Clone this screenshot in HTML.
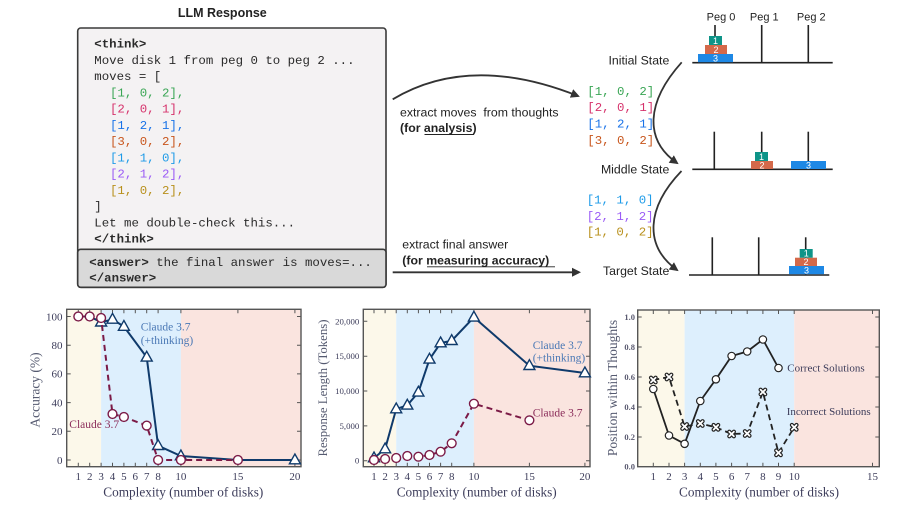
<!DOCTYPE html>
<html><head><meta charset="utf-8"><style>
html,body{margin:0;padding:0;background:#fff;}
svg{display:block;}
.mono{font-family:"Liberation Mono",monospace;font-size:12.4px;}
.sans{font-family:"Liberation Sans",sans-serif;}
.serif{font-family:"Liberation Serif",serif;}
</style></head><body>
<svg width="914" height="514" viewBox="0 0 914 514" xmlns="http://www.w3.org/2000/svg">
<defs>
<marker id="ah" markerWidth="10" markerHeight="10" refX="7" refY="5" orient="auto" markerUnits="userSpaceOnUse"><path d="M0,0.5 L9,5 L0,9.5 Z" fill="#333"/></marker>
<g id="tri"><polygon points="0,-6 5.5,3.8 -5.5,3.8" fill="#fff" stroke="#0f3a6b" stroke-width="1.4"/></g>
<g id="cir"><circle r="4.4" fill="#fff" stroke="#7b1a46" stroke-width="1.4"/></g>
<g id="cirk"><circle r="3.7" fill="#fff" stroke="#222" stroke-width="1.2"/></g>
<g id="xk"><path d="M-2.3,-2.3 L2.3,2.3 M2.3,-2.3 L-2.3,2.3" stroke="#222" stroke-width="4.2" stroke-linecap="round"/><path d="M-2.3,-2.3 L2.3,2.3 M2.3,-2.3 L-2.3,2.3" stroke="#fff" stroke-width="1.8" stroke-linecap="round"/></g>
</defs>

<!-- ================= TOP LEFT: LLM RESPONSE ================= -->
<text x="222.3" y="17" text-anchor="middle" class="sans" font-size="12.5" font-weight="bold" fill="#222">LLM Response</text>
<rect x="77.7" y="28" width="308.3" height="259.3" rx="3" fill="#f4f2f3" stroke="#3a3a3a" stroke-width="1.6"/>
<rect x="77.7" y="249.3" width="308.3" height="38" rx="3" fill="#d9d9d9" stroke="#3a3a3a" stroke-width="1.6"/>
<g class="mono" fill="#2a2a2a">
<text x="94.3" y="47.6" font-weight="bold">&lt;think&gt;</text>
<text x="94.3" y="63.9">Move disk 1 from peg 0 to peg 2 ...</text>
<text x="94.3" y="80.1">moves = [</text>
<text x="110" y="96.4" fill="#3aa655">[1, 0, 2],</text>
<text x="110" y="112.6" fill="#d6336c">[2, 0, 1],</text>
<text x="110" y="128.9" fill="#1a73e8">[1, 2, 1],</text>
<text x="110" y="145.1" fill="#c8561d">[3, 0, 2],</text>
<text x="110" y="161.4" fill="#1e9be8">[1, 1, 0],</text>
<text x="110" y="177.6" fill="#9b5cf6">[2, 1, 2],</text>
<text x="110" y="193.9" fill="#b8901c">[1, 0, 2],</text>
<text x="94.3" y="210.1">]</text>
<text x="94.3" y="226.4">Let me double-check this...</text>
<text x="94.3" y="242.6" font-weight="bold">&lt;/think&gt;</text>
<text x="89.3" y="266"><tspan font-weight="bold">&lt;answer&gt;</tspan> the final answer is moves=...</text>
<text x="89.3" y="281.6" font-weight="bold">&lt;/answer&gt;</text>
</g>

<!-- ================= MIDDLE ARROWS ================= -->
<path d="M392.7,99.3 Q470,53 578,96" fill="none" stroke="#333" stroke-width="1.8" marker-end="url(#ah)"/>
<text x="400" y="116.6" class="sans" font-size="12.3" fill="#222">extract moves&#160; from thoughts</text>
<text x="400" y="132" class="sans" font-size="12.3" font-weight="bold" fill="#222">(for analysis)</text>
<line x1="424.5" y1="134.5" x2="474" y2="134.5" stroke="#222" stroke-width="0.9"/>
<text x="402.3" y="248.6" class="sans" font-size="12.3" fill="#222">extract final answer</text>
<text x="402.3" y="264.3" class="sans" font-size="12.3" font-weight="bold" fill="#222">(for measuring accuracy)</text>
<line x1="427" y1="266.8" x2="555" y2="266.8" stroke="#222" stroke-width="0.9"/>
<line x1="392.7" y1="272.3" x2="579" y2="272.3" stroke="#333" stroke-width="1.8" marker-end="url(#ah)"/>

<!-- move lists -->
<g class="mono" font-size="12">
<text x="587.3" y="95" fill="#3aa655">[1, 0, 2]</text>
<text x="587.3" y="111.2" fill="#d6336c">[2, 0, 1]</text>
<text x="587.3" y="127.6" fill="#1a73e8">[1, 2, 1]</text>
<text x="587.3" y="144.2" fill="#c8561d">[3, 0, 2]</text>
<text x="586.7" y="203.3" fill="#1e9be8">[1, 1, 0]</text>
<text x="586.7" y="219.8" fill="#9b5cf6">[2, 1, 2]</text>
<text x="586.7" y="235.5" fill="#b8901c">[1, 0, 2]</text>
</g>

<!-- ================= TOWER OF HANOI ================= -->
<g class="sans" font-size="11" fill="#222" text-anchor="middle">
<text x="721" y="20.7">Peg 0</text>
<text x="764.3" y="20.7">Peg 1</text>
<text x="811.3" y="20.7">Peg 2</text>
</g>
<g class="sans" font-size="12.3" fill="#222" text-anchor="end">
<text x="669.3" y="64.4">Initial State</text>
<text x="669.3" y="173.6">Middle State</text>
<text x="669.3" y="275">Target State</text>
</g>
<path d="M681.7,62.3 C646,102 644,140 677,163" fill="none" stroke="#333" stroke-width="1.8" marker-end="url(#ah)"/>
<path d="M681.5,171 C646,208 644,246 677,270" fill="none" stroke="#333" stroke-width="1.8" marker-end="url(#ah)"/>

<g stroke="#222" stroke-width="1.6">
<line x1="692.3" y1="62.7" x2="832.7" y2="62.7"/>
<line x1="715" y1="25" x2="715" y2="62.7"/>
<line x1="761.7" y1="25" x2="761.7" y2="62.7"/>
<line x1="808.3" y1="25" x2="808.3" y2="62.7"/>
<line x1="692.3" y1="169.3" x2="832.7" y2="169.3"/>
<line x1="714.3" y1="131.7" x2="714.3" y2="169.3"/>
<line x1="761.7" y1="131.7" x2="761.7" y2="169.3"/>
<line x1="808.3" y1="131.7" x2="808.3" y2="169.3"/>
<line x1="689" y1="275" x2="829.3" y2="275"/>
<line x1="712.3" y1="237.3" x2="712.3" y2="275"/>
<line x1="758.7" y1="237.3" x2="758.7" y2="275"/>
<line x1="805.7" y1="237.3" x2="805.7" y2="275"/>
</g>
<g class="sans" font-size="9" fill="#fff" text-anchor="middle">
<rect x="698" y="54" width="35" height="8.2" fill="#1e88e5"/><text x="715.5" y="61.5">3</text>
<rect x="705" y="45" width="22" height="9" fill="#d4694a"/><text x="716" y="52.8">2</text>
<rect x="709" y="36" width="13" height="9" fill="#0e9488"/><text x="715.5" y="43.8">1</text>
<rect x="751" y="161" width="22" height="8" fill="#d4694a"/><text x="762" y="168.5">2</text>
<rect x="755" y="152" width="13" height="9" fill="#0e9488"/><text x="761.5" y="159.8">1</text>
<rect x="791" y="161" width="35" height="8" fill="#1e88e5"/><text x="808.5" y="168.5">3</text>
<rect x="789" y="266" width="35" height="8.2" fill="#1e88e5"/><text x="806.5" y="273.5">3</text>
<rect x="795" y="257.7" width="22" height="8.3" fill="#d4694a"/><text x="806" y="265">2</text>
<rect x="799.7" y="249" width="13" height="8.7" fill="#0e9488"/><text x="806.2" y="256.5">1</text>
</g>

<!-- ================= CHART 1: ACCURACY ================= -->
<rect x="66.7" y="309.3" width="34.4" height="157.4" fill="#fcf8ea"/>
<rect x="101.1" y="309.3" width="79.8" height="157.4" fill="#ddeffd"/>
<rect x="180.9" y="309.3" width="120.1" height="157.4" fill="#fae4df"/>
<g stroke="#555" stroke-width="1">
<path d="M78.3,466.7v-4M89.7,466.7v-4M101.1,466.7v-4M112.5,466.7v-4M123.9,466.7v-4M135.3,466.7v-4M146.7,466.7v-4M158.1,466.7v-4M180.9,466.7v-4M237.9,466.7v-4M294.9,466.7v-4"/>
<path d="M78.3,309.3v4M89.7,309.3v4M101.1,309.3v4M112.5,309.3v4M123.9,309.3v4M135.3,309.3v4M146.7,309.3v4M158.1,309.3v4M180.9,309.3v4M237.9,309.3v4M294.9,309.3v4"/>
<path d="M66.7,460h4M66.7,431.3h4M66.7,402.6h4M66.7,373.9h4M66.7,345.2h4M66.7,316.5h4"/>
<path d="M301,460h-4M301,431.3h-4M301,402.6h-4M301,373.9h-4M301,345.2h-4M301,316.5h-4"/>
</g>
<rect x="66.7" y="309.3" width="234.3" height="157.4" fill="none" stroke="#555" stroke-width="1.4"/>
<g class="serif" font-size="11" fill="#3c3c5a" text-anchor="end">
<text x="62.5" y="463.8">0</text><text x="62.5" y="435.1">20</text><text x="62.5" y="406.4">40</text><text x="62.5" y="377.7">60</text><text x="62.5" y="349">80</text><text x="62.5" y="320.3">100</text>
</g>
<g class="serif" font-size="11" fill="#3c3c5a" text-anchor="middle">
<text x="78.3" y="480">1</text><text x="89.7" y="480">2</text><text x="101.1" y="480">3</text><text x="112.5" y="480">4</text><text x="123.9" y="480">5</text><text x="135.3" y="480">6</text><text x="146.7" y="480">7</text><text x="158.1" y="480">8</text><text x="180.9" y="480">10</text><text x="237.9" y="480">15</text><text x="294.9" y="480">20</text>
</g>
<text x="183.3" y="496.3" class="serif" font-size="14" fill="#3c3c5a" text-anchor="middle" textLength="160" lengthAdjust="spacingAndGlyphs">Complexity (number of disks)</text>
<text transform="translate(39.5,390) rotate(-90)" class="serif" font-size="13.5" fill="#555a70" text-anchor="middle">Accuracy (%)</text>
<polyline points="78.3,316.5 89.7,316.5 101.1,322.2 112.5,319.4 123.9,326.5 146.7,357.3 158.1,445.7 180.9,456 237.9,460 294.9,460" fill="none" stroke="#0f3a6b" stroke-width="2"/>
<use href="#tri" x="101.1" y="322.2"/><use href="#tri" x="112.5" y="319.4"/><use href="#tri" x="123.9" y="326.5"/><use href="#tri" x="146.7" y="357.3"/><use href="#tri" x="158.1" y="445.7"/><use href="#tri" x="180.9" y="456"/><use href="#tri" x="294.9" y="460"/>
<polyline points="78.3,316.5 89.7,316.5 101.1,318 112.5,414 123.9,417 146.7,425.6 158.1,460 180.9,460 237.9,460" fill="none" stroke="#7b1a46" stroke-width="2" stroke-dasharray="6,4"/>
<use href="#cir" x="78.3" y="316.5"/><use href="#cir" x="89.7" y="316.5"/><use href="#cir" x="101.1" y="318"/><use href="#cir" x="112.5" y="414"/><use href="#cir" x="123.9" y="417"/><use href="#cir" x="146.7" y="425.6"/><use href="#cir" x="158.1" y="460"/><use href="#cir" x="180.9" y="460"/><use href="#cir" x="237.9" y="460"/>
<g class="serif" font-size="11.5">
<text x="140.7" y="330.5" fill="#4a78b5">Claude 3.7</text>
<text x="140.7" y="343.8" fill="#4a78b5">(+thinking)</text>
<text x="69.3" y="428" fill="#8b2d5a">Claude 3.7</text>
</g>

<!-- ================= CHART 2: RESPONSE LENGTH ================= -->
<rect x="363.3" y="309.3" width="32.9" height="157.4" fill="#fcf8ea"/>
<rect x="396.2" y="309.3" width="77.7" height="157.4" fill="#ddeffd"/>
<rect x="473.9" y="309.3" width="116.1" height="157.4" fill="#fae4df"/>
<g stroke="#555" stroke-width="1">
<path d="M374,466.7v-4M385.1,466.7v-4M396.2,466.7v-4M407.3,466.7v-4M418.4,466.7v-4M429.5,466.7v-4M440.6,466.7v-4M451.7,466.7v-4M473.9,466.7v-4M529.4,466.7v-4M584.9,466.7v-4"/>
<path d="M374,309.3v4M385.1,309.3v4M396.2,309.3v4M407.3,309.3v4M418.4,309.3v4M429.5,309.3v4M440.6,309.3v4M451.7,309.3v4M473.9,309.3v4M529.4,309.3v4M584.9,309.3v4"/>
<path d="M363.3,460.7h4M363.3,425.9h4M363.3,391h4M363.3,356.2h4M363.3,321.3h4"/>
<path d="M590,460.7h-4M590,425.9h-4M590,391h-4M590,356.2h-4M590,321.3h-4"/>
</g>
<rect x="363.3" y="309.3" width="226.7" height="157.4" fill="none" stroke="#555" stroke-width="1.4"/>
<g class="serif" font-size="8.8" fill="#3c3c5a" text-anchor="end">
<text x="359.3" y="463.7">0</text><text x="359.3" y="428.9">5,000</text><text x="359.3" y="394">10,000</text><text x="359.3" y="359.2">15,000</text><text x="359.3" y="324.3">20,000</text>
</g>
<g class="serif" font-size="11" fill="#3c3c5a" text-anchor="middle">
<text x="374" y="480">1</text><text x="385.1" y="480">2</text><text x="396.2" y="480">3</text><text x="407.3" y="480">4</text><text x="418.4" y="480">5</text><text x="429.5" y="480">6</text><text x="440.6" y="480">7</text><text x="451.7" y="480">8</text><text x="473.9" y="480">10</text><text x="529.4" y="480">15</text><text x="584.9" y="480">20</text>
</g>
<text x="476.7" y="496.3" class="serif" font-size="14" fill="#3c3c5a" text-anchor="middle" textLength="160" lengthAdjust="spacingAndGlyphs">Complexity (number of disks)</text>
<text transform="translate(327,388) rotate(-90)" class="serif" font-size="12.8" fill="#555a70" text-anchor="middle">Response Length (Tokens)</text>
<polyline points="374,458 385.1,449 396.2,409 407.3,405.3 418.4,392.3 429.5,359.3 440.6,343 451.7,340.7 473.9,317.3 529.4,365.7 584.9,373" fill="none" stroke="#0f3a6b" stroke-width="2"/>
<use href="#tri" x="374" y="458"/><use href="#tri" x="385.1" y="449"/><use href="#tri" x="396.2" y="409"/><use href="#tri" x="407.3" y="405.3"/><use href="#tri" x="418.4" y="392.3"/><use href="#tri" x="429.5" y="359.3"/><use href="#tri" x="440.6" y="343"/><use href="#tri" x="451.7" y="340.7"/><use href="#tri" x="473.9" y="317.3"/><use href="#tri" x="529.4" y="365.7"/><use href="#tri" x="584.9" y="373"/>
<polyline points="374,460 385.1,459 396.2,458 407.3,456 418.4,456.7 429.5,455 440.6,451.7 451.7,443.3 473.9,403.7 529.4,420.3" fill="none" stroke="#7b1a46" stroke-width="2" stroke-dasharray="6,4"/>
<use href="#cir" x="374" y="460"/><use href="#cir" x="385.1" y="459"/><use href="#cir" x="396.2" y="458"/><use href="#cir" x="407.3" y="456"/><use href="#cir" x="418.4" y="456.7"/><use href="#cir" x="429.5" y="455"/><use href="#cir" x="440.6" y="451.7"/><use href="#cir" x="451.7" y="443.3"/><use href="#cir" x="473.9" y="403.7"/><use href="#cir" x="529.4" y="420.3"/>
<g class="serif" font-size="11.5">
<text x="532.7" y="349" fill="#4a78b5">Claude 3.7</text>
<text x="532.7" y="361.3" fill="#4a78b5">(+thinking)</text>
<text x="532.7" y="416.3" fill="#8b2d5a">Claude 3.7</text>
</g>

<!-- ================= CHART 3: POSITION ================= -->
<rect x="637.7" y="310" width="46.9" height="156.7" fill="#fcf8ea"/>
<rect x="684.6" y="310" width="109.6" height="156.7" fill="#ddeffd"/>
<rect x="794.2" y="310" width="85.1" height="156.7" fill="#fae4df"/>
<g stroke="#555" stroke-width="1">
<path d="M653.3,466.7v-4M669,466.7v-4M684.6,466.7v-4M700.3,466.7v-4M715.9,466.7v-4M731.6,466.7v-4M747.2,466.7v-4M762.9,466.7v-4M778.5,466.7v-4M794.2,466.7v-4M872.5,466.7v-4"/>
<path d="M653.3,310v4M669,310v4M684.6,310v4M700.3,310v4M715.9,310v4M731.6,310v4M747.2,310v4M762.9,310v4M778.5,310v4M794.2,310v4M872.5,310v4"/>
<path d="M637.7,437h4M637.7,407h4M637.7,377h4M637.7,347h4M637.7,317h4"/>
<path d="M879.3,437h-4M879.3,407h-4M879.3,377h-4M879.3,347h-4M879.3,317h-4"/>
</g>
<rect x="637.7" y="310" width="241.6" height="156.7" fill="none" stroke="#555" stroke-width="1.4"/>
<g class="serif" font-size="8.5" fill="#5a5a70" text-anchor="end" font-weight="bold">
<text x="635" y="469.5">0.0</text><text x="635" y="440">0.2</text><text x="635" y="410">0.4</text><text x="635" y="380">0.6</text><text x="635" y="350">0.8</text><text x="635" y="320">1.0</text>
</g>
<g class="serif" font-size="11" fill="#3c3c5a" text-anchor="middle">
<text x="653.3" y="480">1</text><text x="669" y="480">2</text><text x="684.6" y="480">3</text><text x="700.3" y="480">4</text><text x="715.9" y="480">5</text><text x="731.6" y="480">6</text><text x="747.2" y="480">7</text><text x="762.9" y="480">8</text><text x="778.5" y="480">9</text><text x="794.2" y="480">10</text><text x="872.5" y="480">15</text>
</g>
<text x="759" y="496.3" class="serif" font-size="14" fill="#3c3c5a" text-anchor="middle" textLength="160" lengthAdjust="spacingAndGlyphs">Complexity (number of disks)</text>
<text transform="translate(617,388) rotate(-90)" class="serif" font-size="13.5" fill="#555a70" text-anchor="middle">Position within Thoughts</text>
<polyline points="653.3,380 669,377 684.6,426.5 700.3,423.5 715.9,427.3 731.6,434 747.2,433.5 762.9,392 778.5,452.8 794.2,427.3" fill="none" stroke="#222" stroke-width="1.8" stroke-dasharray="6,4"/>
<polyline points="653.3,389 669,435.5 684.6,443.8 700.3,401 715.9,379.3 731.6,356 747.2,351.5 762.9,339.5 778.5,368" fill="none" stroke="#222" stroke-width="1.8"/>
<use href="#cirk" x="653.3" y="389"/><use href="#cirk" x="669" y="435.5"/><use href="#cirk" x="684.6" y="443.8"/><use href="#cirk" x="700.3" y="401"/><use href="#cirk" x="715.9" y="379.3"/><use href="#cirk" x="731.6" y="356"/><use href="#cirk" x="747.2" y="351.5"/><use href="#cirk" x="762.9" y="339.5"/><use href="#cirk" x="778.5" y="368"/>
<use href="#xk" x="653.3" y="380"/><use href="#xk" x="669" y="377"/><use href="#xk" x="684.6" y="426.5"/><use href="#xk" x="700.3" y="423.5"/><use href="#xk" x="715.9" y="427.3"/><use href="#xk" x="731.6" y="434"/><use href="#xk" x="747.2" y="433.5"/><use href="#xk" x="762.9" y="392"/><use href="#xk" x="778.5" y="452.8"/><use href="#xk" x="794.2" y="427.3"/>
<g class="serif" font-size="11" fill="#3c3c5a">
<text x="787.3" y="371.5">Correct Solutions</text>
<text x="786.7" y="414.8">Incorrect Solutions</text>
</g>
</svg>
</body></html>
